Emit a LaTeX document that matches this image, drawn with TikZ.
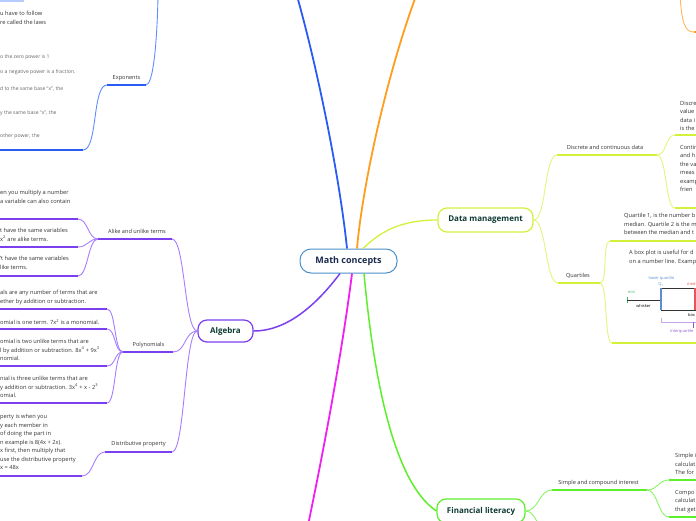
\documentclass[tikz,border=0pt]{standalone}
\usepackage{fontspec}
\setmainfont{Open Sans}
\definecolor{cblue}{HTML}{2A5CF2}
\definecolor{lblue}{HTML}{5F8DFF}
\definecolor{corange}{HTML}{FF9D1E}
\definecolor{lorange}{HTML}{FFB75A}
\definecolor{cyel}{HTML}{D2F23A}
\definecolor{lyel}{HTML}{E3F57C}
\definecolor{cgreen}{HTML}{5DEE2C}
\definecolor{lgreen}{HTML}{8AF466}
\definecolor{cmag}{HTML}{F020F0}
\definecolor{cpurp}{HTML}{7B3FF0}
\definecolor{lpurp}{HTML}{A67EFF}
\definecolor{ccenter}{HTML}{4A90C8}
\definecolor{ctopic}{HTML}{0E3A32}
\definecolor{cmain}{HTML}{1B2A4E}
\definecolor{leafgray}{HTML}{333333}
\definecolor{fadegray}{HTML}{666666}
\definecolor{bpblue}{HTML}{5B8ED2}
\definecolor{bpred}{HTML}{E05858}
\definecolor{bpgreen}{HTML}{3DB36E}
\definecolor{bppurp}{HTML}{8E5CC8}
\definecolor{bplpurp}{HTML}{C8A8E8}
\begin{document}
\begin{tikzpicture}[x=1pt,y=-1pt,
  leaf/.style={anchor=north west, inner sep=0pt, align=left, text=leafgray, font=\fontsize{5.7}{8.5}\selectfont},
  fade/.style={anchor=west, inner sep=0pt, text=fadegray, font=\fontsize{5.1}{6}\selectfont},
  subt/.style={inner sep=0pt, text=leafgray, font=\fontsize{5.6}{7}\selectfont},
  topic/.style={draw, rounded corners=9pt, line width=1.2pt, fill=white, inner sep=0pt, text=ctopic, font=\fontsize{8}{10}\selectfont\bfseries},
  bptext/.style={inner sep=0pt, font=\fontsize{4}{5}\selectfont},
  uline/.style={line width=1.8pt},
  thin/.style={line width=0.9pt}
]
\useasboundingbox (0,0) rectangle (696,520);
\clip (0,0) rectangle (696,520);

% ---------- central node ----------
\node[draw=ccenter, line width=1pt, rounded corners=11pt, minimum width=97pt, minimum height=24pt, fill=white, inner sep=0pt, text=cmain, font=\fontsize{9}{11}\selectfont\bfseries] (mc) at (348.5,261) {Math concepts};

% ---------- off-canvas parents ----------
\coordinate (blueTop) at (297,-4);
\coordinate (orTop) at (416,-4);
\coordinate (magBot) at (307,530);

% main branches
\draw[cblue, line width=1.8pt] ([xshift=-1.5pt]mc.north) .. controls (340,180) and (318,70) .. (blueTop);
\draw[corange, line width=1.8pt] ([xshift=8.5pt]mc.north) .. controls (362,190) and (385,80) .. (orTop);
\draw[cmag, line width=1.8pt] ([xshift=3.5pt]mc.south) .. controls (345,330) and (330,420) .. (magBot);

% ---------- top-left blue remains ----------
\fill[lblue!45] (0,-1) rectangle (24,1.5);
\coordinate (expParent) at (158,-4);
\coordinate (exL) at (107,85);
\coordinate (exR) at (146,85);
\node[subt] (ex) at (126.5,78.5) {Exponents};
\draw[lblue, thin] (expParent) .. controls (157,45) and (153,85) .. (exR);
\draw[cblue, uline] (exL) -- (exR);
\coordinate (exLeafR) at (83,150);
\coordinate (exLeafL) at (-2,150);
\draw[lblue, thin] (exL) .. controls +(-15,0) and +(15,0) .. (exLeafR);
\draw[cblue, uline] (exLeafL) -- (exLeafR);
\node[leaf] (exT0) at (0,11) {u have to follow\\re called the laws};
\node[fade] (exT1) at (0,57) {o the zero power is 1};
\node[fade] (exT2) at (0,72) {o a negative power is a fraction.};
\node[fade] (exT3) at (0,89) {d to the same base ``x'', the};
\node[fade] (exT4) at (0,113) {y the same base ``x'', the};
\node[fade] (exT5) at (0,136) {other power, the};

% ---------- top-right orange remains ----------
\coordinate (or2a) at (680,-4);
\coordinate (or2b) at (694,32);
\coordinate (or2c) at (700,32);
\draw[lorange, thin] (or2a) .. controls (682,24) and (685,32) .. (or2b);
\draw[corange, uline] (or2b) -- (or2c);

% ---------- Data management ----------
\node[topic, draw=cyel, minimum width=95pt, minimum height=24pt] (dm) at (485.5,220) {Data management};
\draw[cyel, line width=1.3pt] ([xshift=14.5pt]mc.north) .. controls (380,232) and (400,220) .. (dm.west);

\coordinate (dcL) at (557,155); \coordinate (dcR) at (657,155);
\node[subt] (dc) at (605,147.5) {Discrete and continuous data};
\draw[lyel, thin] (dm.east) .. controls +(13,0) and +(-13,0) .. (dcL);
\draw[cyel, uline] (dcL) -- (dcR);

\coordinate (quL) at (558,283); \coordinate (quR) at (600,283);
\node[subt] (qu) at (578,276) {Quartiles};
\draw[lyel, thin] (dm.east) .. controls +(13,0) and +(-13,0) .. (quL);
\draw[cyel, uline] (quL) -- (quR);

\coordinate (d1L) at (675,135); \coordinate (d1R) at (700,135);
\coordinate (d2L) at (675,208); \coordinate (d2R) at (700,208);
\draw[lyel, thin] (dcR) .. controls +(10,0) and +(-10,0) .. (d1L);
\draw[lyel, thin] (dcR) .. controls +(10,0) and +(-10,0) .. (d2L);
\draw[cyel, uline] (d1L) -- (d1R);
\draw[cyel, uline] (d2L) -- (d2R);
\node[leaf] (d1T) at (680,101) {Discre\\value\\data i\\is the};
\node[leaf] (d2T) at (680,145) {Contin\\and h\\the va\\meas\\examp\\frien};

\coordinate (q1L) at (610,241); \coordinate (q1R) at (700,241);
\coordinate (q2L) at (612,343); \coordinate (q2R) at (700,343);
\draw[lyel, thin] (quR) .. controls +(8,0) and +(-8,0) .. (q1L);
\draw[lyel, thin] (quR) .. controls +(8,0) and +(-8,0) .. (q2L);
\draw[cyel, uline] (q1L) -- (q1R);
\draw[cyel, uline] (q2L) -- (q2R);
\node[leaf] (q1T) at (624,213) {Quartile 1, is the number b\\median. Quartile 2 is the m\\between the median and t};
\node[leaf] (q2T) at (629,250) {A box plot is useful for d\\on a number line. Examp};

% box plot picture
\node[bptext, text=bpblue] (bpLQ) at (661.5,278.5) {lower quartile};
\node[bptext, text=bpblue] (bpQ1) at (661,284.5) {Q\textsubscript{1}};
\node[bptext, text=bpred, anchor=west] (bpMed) at (687,283.5) {med};
\node[bptext, text=bpgreen] (bpMin) at (631.5,292.5) {min};
\draw[bpgreen, line width=1pt] (627,297) -- (627,303);
\draw[black!80, line width=1pt] (627,300) -- (661,300);
\node[bptext, text=black] (bpWh) at (643.5,306) {whisker};
\draw[black!80, line width=1pt] (700,288) -- (661,288) -- (661,310) -- (700,310);
\draw[bpblue, line width=1.2pt] (661,288) -- (661,310);
\draw[bpred, line width=1.2pt] (695,288) -- (695,310);
\node[bptext, text=black, anchor=west] (bpBox) at (688,314.5) {box};
\draw[bplpurp, line width=1pt] (661,318) -- (661,322) -- (700,322);
\draw[bppurp, line width=1pt] (693,322) -- (693,328);
\node[bptext, text=bppurp, anchor=west] (bpIQ) at (670,331.5) {Interquartile};

% ---------- Financial literacy ----------
\node[topic, draw=cgreen, minimum width=88pt, minimum height=24pt] (fl) at (481,511) {Financial literacy};
\draw[cgreen, line width=1.5pt] ([xshift=15.5pt]mc.south) .. controls (372,360) and (390,480) .. (fl.west);

\coordinate (siL) at (552,490); \coordinate (siR) at (647,490);
\coordinate (flLow) at (552,540);
\node[subt] (si) at (598.5,483) {Simple and compound interest};
\draw[lgreen, thin] (fl.east) .. controls +(13,0) and +(-13,0) .. (siL);
\draw[lgreen, thin] (fl.east) .. controls +(13,0) and +(-13,0) .. (flLow);
\draw[cgreen, uline] (siL) -- (siR);

\coordinate (s1L) at (669,480); \coordinate (s1R) at (700,480);
\coordinate (s2L) at (669,517); \coordinate (s2R) at (700,517);
\draw[lgreen, thin] (siR) .. controls +(11,0) and +(-11,0) .. (s1L);
\draw[lgreen, thin] (siR) .. controls +(11,0) and +(-11,0) .. (s2L);
\draw[cgreen, uline] (s1L) -- (s1R);
\draw[cgreen, uline] (s2L) -- (s2R);
\node[leaf] (s1T) at (675,453) {Simple i\\calculat\\The for};
\node[leaf] (s2T) at (675,490) {Compo\\calculat\\that get};

% ---------- Algebra ----------
\node[topic, draw=cpurp, minimum width=55pt, minimum height=22pt] (al) at (225.5,331) {Algebra};
\draw[cpurp, line width=1.5pt] ([xshift=-8.5pt]mc.south) .. controls (320,300) and (290,331) .. (al.east);

\coordinate (akL) at (98,239); \coordinate (akR) at (172,239);
\node[subt] (ak) at (137,231.5) {Alike and unlike terms};
\coordinate (poL) at (123,352); \coordinate (poR) at (173,352);
\node[subt] (po) at (148.5,345) {Polynomials};
\coordinate (diL) at (105,452); \coordinate (diR) at (172,452);
\node[subt] (di) at (138.5,444) {Distributive property};
\foreach \c in {akR,poR,diR}
  \draw[lpurp, thin] (al.west) .. controls +(-13,0) and +(13,0) .. (\c);
\draw[cpurp, uline] (akL) -- (akR);
\draw[cpurp, uline] (poL) -- (poR);
\draw[cpurp, uline] (diL) -- (diR);

% alike leaves
\coordinate (a1L) at (-2,219); \coordinate (a1R) at (78,219);
\coordinate (a2L) at (-2,247); \coordinate (a2R) at (78,247);
\coordinate (a3L) at (-2,276); \coordinate (a3R) at (78,276);
\foreach \c in {a1R,a2R,a3R}
  \draw[lpurp, thin] (akL) .. controls +(-10,0) and +(10,0) .. (\c);
\draw[cpurp, uline] (a1L) -- (a1R);
\draw[cpurp, uline] (a2L) -- (a2R);
\draw[cpurp, uline] (a3L) -- (a3R);
\node[leaf] (a1T) at (0,190) {en you multiply a number\\a variable can also contain};
\node[leaf] (a2T) at (0,228) {t have the same variables\\x\textsuperscript{2} are alike terms.};
\node[leaf] (a3T) at (0,256) {'t have the same variables\\like terms.};

% polynomial leaves
\coordinate (p1L) at (-2,309); \coordinate (p1R) at (107,309);
\coordinate (p2L) at (-2,329); \coordinate (p2R) at (107,329);
\coordinate (p3L) at (-2,366); \coordinate (p3R) at (107,366);
\coordinate (p4L) at (-2,403); \coordinate (p4R) at (107,403);
\foreach \c in {p1R,p2R,p3R,p4R}
  \draw[lpurp, thin] (poL) .. controls +(-9,0) and +(9,0) .. (\c);
\draw[cpurp, uline] (p1L) -- (p1R);
\draw[cpurp, uline] (p2L) -- (p2R);
\draw[cpurp, uline] (p3L) -- (p3R);
\draw[cpurp, uline] (p4L) -- (p4R);
\node[leaf] (p1T) at (0,290) {als are any number of terms that are\\ether by addition or subtraction.};
\node[leaf] (p2T) at (0,319) {omial is one term. 7x\textsuperscript{2} is a monomial.};
\node[leaf] (p3T) at (0,339) {omial is two unlike terms that are\\l by addition or subtraction. 8x\textsuperscript{4} + 9x\textsuperscript{3}\\nomial.};
\node[leaf] (p4T) at (0,376) {nial is three unlike terms that are\\y addition or subtraction. 3x\textsuperscript{4} + x - 2\textsuperscript{3}\\omial.};

% distributive leaf
\coordinate (dlL) at (-2,476); \coordinate (dlR) at (82,476);
\draw[lpurp, thin] (diL) .. controls +(-12,0) and +(12,0) .. (dlR);
\draw[cpurp, uline] (dlL) -- (dlR);
\node[leaf] (dlT) at (0,414) {perty is when you\\y each member in\\of doing the part in\\n example is 8(4x + 2x).\\x first, then multiply that\\use the distributive property\\x = 48x};
\end{tikzpicture}
\end{document}
